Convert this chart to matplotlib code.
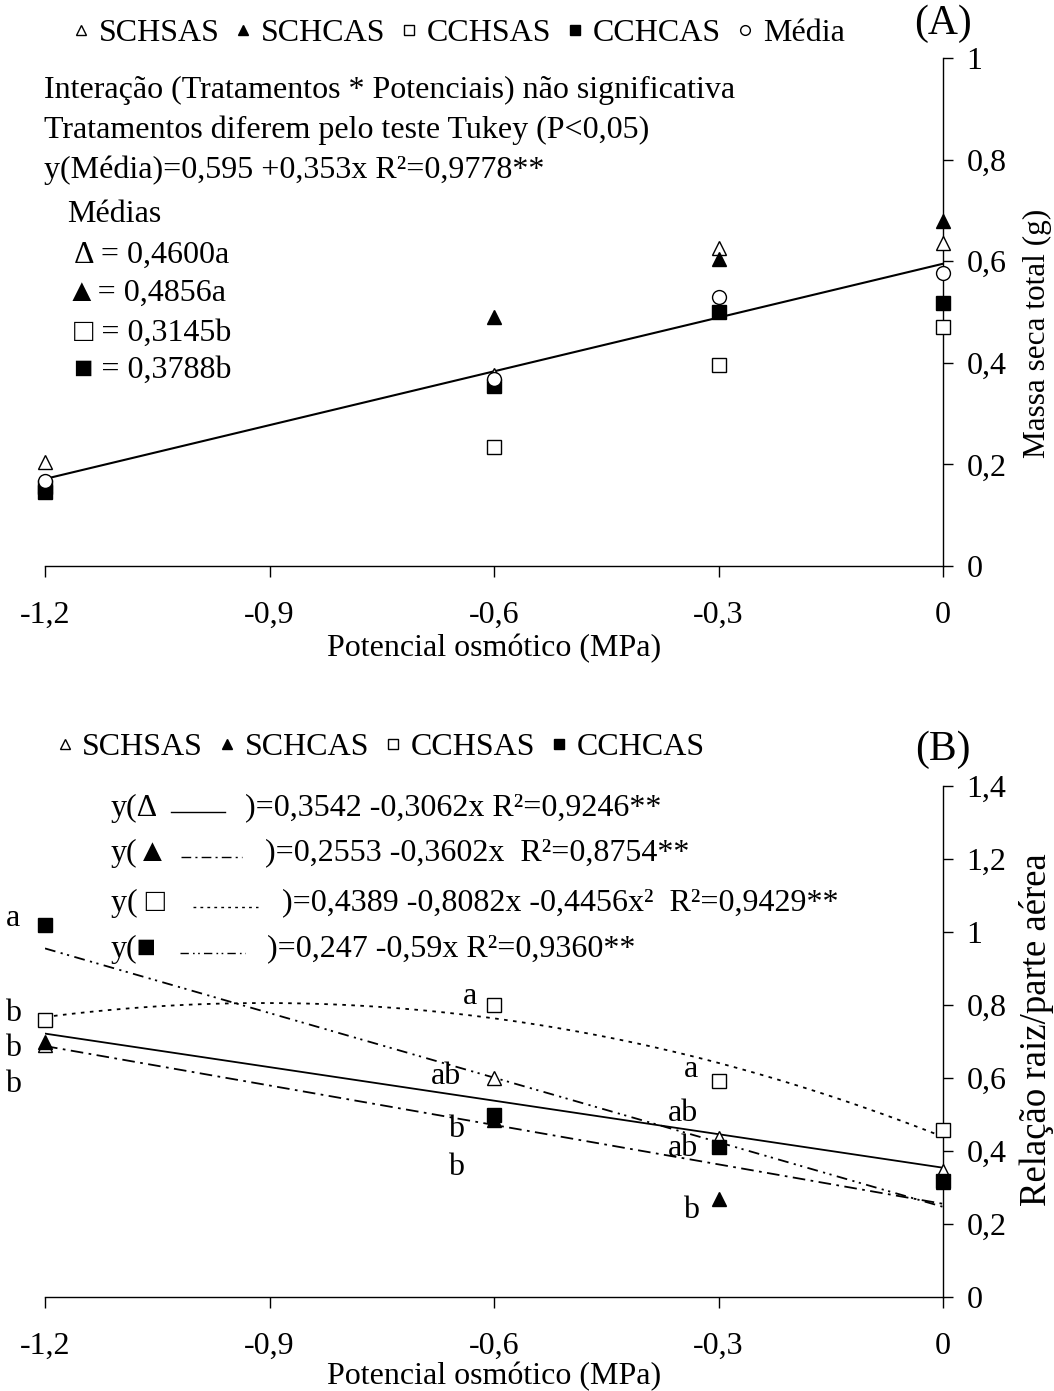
import numpy as np
import matplotlib
matplotlib.use("Agg")
import matplotlib.pyplot as plt
from matplotlib.lines import Line2D

plt.rcParams['font.family'] = ['Liberation Serif', 'DejaVu Serif']
plt.rcParams['font.size'] = 23

# osmotic potential levels (MPa)
potencial = [-1.2, -0.6, -0.3, 0.0]
series_names = ["SCHSAS", "SCHCAS", "CCHSAS", "CCHCAS"]

# panel A - total dry mass (g)
massa_schsas = [0.205, 0.375, 0.625, 0.635]
massa_schcas = [0.160, 0.490, 0.605, 0.680]
massa_cchsas = [0.155, 0.235, 0.395, 0.470]
massa_cchcas = [0.145, 0.355, 0.500, 0.518]
massa_media = [0.168, 0.368, 0.530, 0.576]
coef_media = [0.595, 0.353]

# panel B - root/shoot ratio
rel_schsas = [0.690, 0.600, 0.435, 0.345]
rel_schcas = [0.700, 0.485, 0.268, 0.315]
rel_cchsas = [0.760, 0.800, 0.592, 0.458]
rel_cchcas = [1.020, 0.500, 0.410, 0.318]
# polynomial coefficients (c0, c1, c2) as printed
coef_b = [[0.3542, -0.3062, 0.0],
          [0.2553, -0.3602, 0.0],
          [0.4389, -0.8082, -0.4456],
          [0.247, -0.59, 0.0]]

# Tukey letters in panel B: (x, y, letter)
letras_b = [(-1.243, 1.038, "a"), (-1.243, 0.778, "b"), (-1.243, 0.682, "b"),
            (-1.243, 0.581, "b"), (-0.632, 0.822, "a"), (-0.664, 0.603, "ab"),
            (-0.651, 0.458, "b"), (-0.651, 0.356, "b"), (-0.337, 0.622, "a"),
            (-0.347, 0.504, "ab"), (-0.347, 0.408, "ab"), (-0.337, 0.238, "b")]

W, H = 1054, 1391
fig = plt.figure(figsize=(W / 100, H / 100), dpi=100)


def fx(px):
    return px / W


def fy(py):
    return 1 - py / H


styles = [dict(marker='^', mfc='white'), dict(marker='^', mfc='black'),
          dict(marker='s', mfc='white'), dict(marker='s', mfc='black'),
          dict(marker='o', mfc='white')]


def setup_axis(ax, ymax, ystep, labelpad):
    for s in ['top', 'left']:
        ax.spines[s].set_visible(False)
    ax.spines['bottom'].set_linewidth(1.0)
    ax.spines['right'].set_linewidth(1.0)
    ax.set_xlim(-1.2, 0)
    ax.set_ylim(0, ymax)
    ax.yaxis.tick_right()
    ticks_x = [-1.2, -0.9, -0.6, -0.3, 0]
    ax.set_xticks(ticks_x)
    ax.set_xticklabels([("%g" % t).replace('.', ',') for t in ticks_x])
    ticks_y = np.round(np.arange(0, ymax + 1e-9, ystep), 1)
    ax.set_yticks(ticks_y)
    ax.set_yticklabels([("%g" % t).replace('.', ',') for t in ticks_y])
    ax.tick_params(axis='x', direction='out', length=8, width=1, pad=17)
    ax.tick_params(axis='y', direction='out', length=7, width=1, pad=10)
    ax.set_xlabel("Potencial osmótico (MPa)", labelpad=labelpad)


# ---------- panel A ----------
axA = fig.add_axes([fx(45), fy(566), fx(943) - fx(45), fy(58) - fy(566)])
setup_axis(axA, 1.0, 0.2, 3)
xs = np.array(potencial)
axA.plot(xs, coef_media[0] + coef_media[1] * xs, color='black', lw=1.5)
handlesA = []
for vals, name, st in zip([massa_schsas, massa_schcas, massa_cchsas, massa_cchcas, massa_media],
                          series_names + ["Média"], styles):
    h, = axA.plot(potencial, vals, ls='none', mec='black', mew=1.0, ms=10,
                  clip_on=False, zorder=3, label=name, **st)
    handlesA.append(h)

fig.legend(handles=handlesA, loc='center', bbox_to_anchor=(fx(458), fy(33)), ncol=5,
           frameon=False, markerscale=0.7, handlelength=0.6, handletextpad=0.25,
           columnspacing=0.45, fontsize=23, borderpad=0)
fig.text(fx(943), fy(24), "(A)", fontsize=30, ha='center', va='center')
fig.text(fx(1037), fy(333), "Massa seca total (g)", fontsize=22.5, rotation=90,
         ha='center', va='center')

txtA = [(44, 90, "Interação (Tratamentos * Potenciais) não significativa"),
        (44, 130, "Tratamentos diferem pelo teste Tukey (P<0,05)"),
        (44, 170, "y(Média)=0,595 +0,353x R²=0,9778**"),
        (67, 215, "Médias"),
        (74, 255, "Δ = 0,4600a"),
        (66, 293, "▲= 0,4856a"),
        (74, 333, "□ = 0,3145b"),
        (74, 370, "■ = 0,3788b")]
for px, py, t in txtA:
    fig.text(fx(px), fy(py), t, ha='left', va='center')

# ---------- panel B ----------
axB = fig.add_axes([fx(45), fy(1297), fx(943) - fx(45), fy(786) - fy(1297)])
setup_axis(axB, 1.4, 0.2, 1)
line_styles = ['-', (0, (7, 3, 1.5, 3)), (0, (2, 3)), (0, (6, 3, 1.2, 2.5, 1.2, 3))]
xfit = np.linspace(-1.2, 0, 100)
for c, lsty in zip(coef_b, line_styles):
    axB.plot(xfit, c[0] + c[1] * xfit + c[2] * xfit ** 2, color='black', lw=1.3, ls=lsty)
handlesB = []
for vals, name, st in zip([rel_schsas, rel_schcas, rel_cchsas, rel_cchcas], series_names, styles):
    h, = axB.plot(potencial, vals, ls='none', mec='black', mew=1.0, ms=10,
                  clip_on=False, zorder=3, label=name, **st)
    handlesB.append(h)
for x, y, t in letras_b:
    axB.text(x, y, t, ha='center', va='center', clip_on=False)

fig.legend(handles=handlesB, loc='center', bbox_to_anchor=(fx(380), fy(747)), ncol=4,
           frameon=False, markerscale=0.7, handlelength=0.6, handletextpad=0.25,
           columnspacing=0.45, fontsize=23, borderpad=0)
fig.text(fx(943), fy(750), "(B)", fontsize=30, ha='center', va='center')
fig.text(fx(1037), fy(1030), "Relação raiz/parte aérea", fontsize=26.5, rotation=90,
         ha='center', va='center')

eq_rows = [(808, "y(Δ", 171, 225, 245, ")=0,3542 -0,3062x R²=0,9246**"),
           (853, "y(▲", 181, 242, 265, ")=0,2553 -0,3602x  R²=0,8754**"),
           (903, "y( □", 193, 258, 282, ")=0,4389 -0,8082x -0,4456x²  R²=0,9429**"),
           (949, "y(■", 180, 245, 267, ")=0,247 -0,59x R²=0,9360**")]
for (py, pre, l0, l1, sx, suf), lsty in zip(eq_rows, line_styles):
    fig.text(fx(111), fy(py), pre, ha='left', va='center')
    fig.add_artist(Line2D([fx(l0), fx(l1)], [fy(py + 4), fy(py + 4)],
                          transform=fig.transFigure, color='black', lw=1.0, ls=lsty))
    fig.text(fx(sx), fy(py), suf, ha='left', va='center')

fig.savefig("out.png", dpi=100)
